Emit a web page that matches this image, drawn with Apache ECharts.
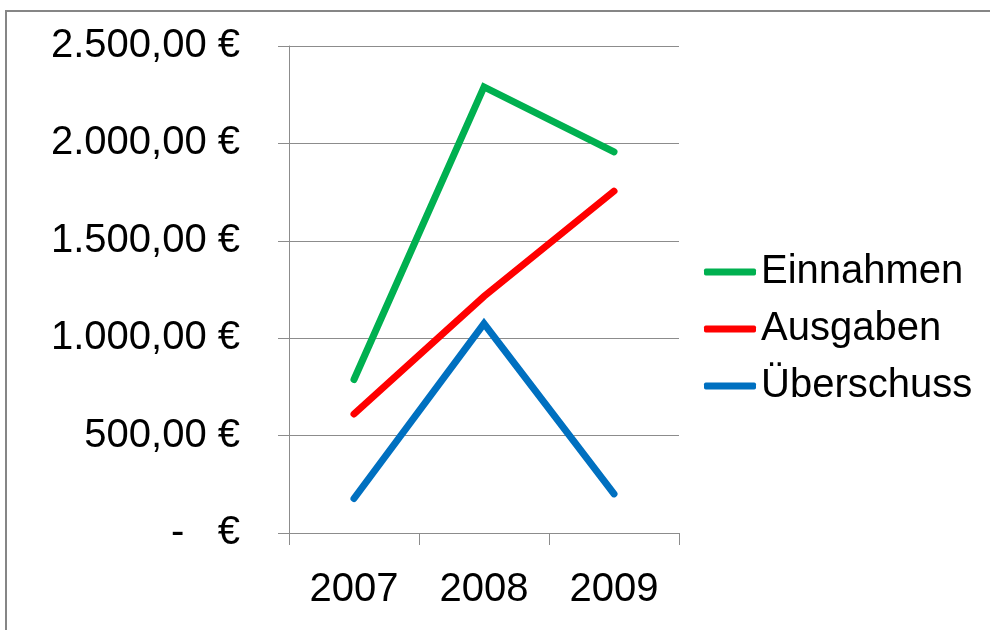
<!DOCTYPE html>
<html>
<head>
<meta charset="utf-8">
<title>Einnahmen / Ausgaben</title>
<script src="https://cdn.jsdelivr.net/npm/echarts@6/dist/echarts.min.js"></script>
<style>
  html, body { margin: 0; padding: 0; background: #fff; }
  #chart { width: 990px; height: 630px; }
</style>
</head>
<body>
<div id="chart"></div>
<script>
  // Daten
  const jahre = ['2007', '2008', '2009']
  const einnahmen = [788, 2290, 1956]
  const ausgaben = [611, 1215, 1755]
  const ueberschuss = [177, 1075, 201]

  // 1234.5 -> "1.234,50 €", 0 -> "-  €"
  function euro(v) {
    if (v === 0) return '-   €'
    const parts = v.toFixed(2).split('.')
    const ganz = parts[0].replace(/\B(?=(\d{3})+(?!\d))/g, '.')
    return ganz + ',' + parts[1] + ' €'
  }

  const font = 'Arial, "Liberation Sans", sans-serif'
  const linie = (name, data, color) => ({
    name: name,
    type: 'line',
    data: data,
    symbol: 'none',
    lineStyle: { width: 7, color: color, cap: 'round', join: 'miter' },
    itemStyle: { color: color }
  })

  const myChart = echarts.init(document.getElementById('chart'))
  const option = {
    animation: false,
    textStyle: { fontFamily: font },
    graphic: [{
      type: 'rect',
      shape: { x: 6, y: 11, width: 1000, height: 700 },
      style: { fill: 'none', stroke: '#868686', lineWidth: 2 },
      silent: true
    }],
    grid: { left: 289, right: 311, top: 46, bottom: 97 },
    legend: {
      orient: 'vertical',
      left: 699,
      top: 247,
      itemWidth: 52,
      itemHeight: 7,
      itemGap: 17,
      icon: 'roundRect',
      textStyle: { fontSize: 40, color: '#000', fontFamily: font, lineHeight: 40 },
      data: ['Einnahmen', 'Ausgaben', 'Überschuss']
    },
    xAxis: {
      type: 'category',
      data: jahre,
      boundaryGap: true,
      axisLine: { lineStyle: { color: '#8c8c8c', width: 1 } },
      axisTick: { show: true, length: 12, inside: false, lineStyle: { color: '#8c8c8c' } },
      axisLabel: { fontSize: 40, color: '#000', margin: 37, fontFamily: font }
    },
    yAxis: {
      type: 'value',
      min: 0,
      max: 2500,
      interval: 500,
      axisLine: { show: true, lineStyle: { color: '#8c8c8c', width: 1 } },
      axisTick: { show: true, length: 11, lineStyle: { color: '#8c8c8c' } },
      splitLine: { lineStyle: { color: '#8c8c8c', width: 1 } },
      axisLabel: { fontSize: 40, color: '#000', margin: 49, fontFamily: font, formatter: euro }
    },
    series: [
      linie('Einnahmen', einnahmen, '#00B050'),
      linie('Ausgaben', ausgaben, '#FF0000'),
      linie('Überschuss', ueberschuss, '#0070C0')
    ]
  }
  myChart.setOption(option, true)
</script>
</body>
</html>
